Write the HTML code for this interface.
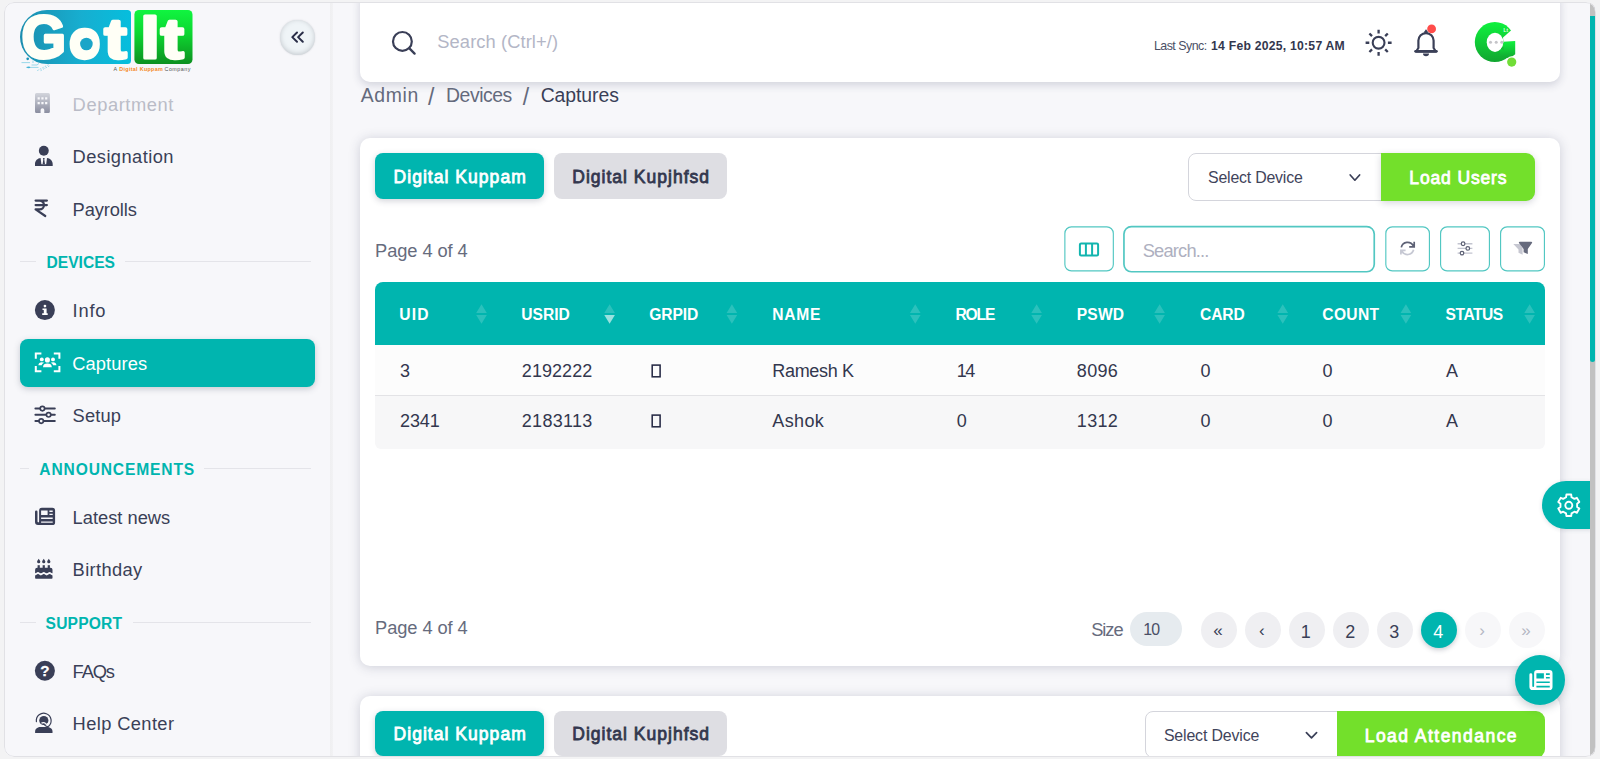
<!DOCTYPE html>
<html lang="en"><head><meta charset="utf-8"><title>GotIt - Captures</title>
<style>
*{box-sizing:border-box;margin:0;padding:0}
html,body{width:1600px;height:759px;overflow:hidden;background:#f3f3f4;font-family:"Liberation Sans",Arial,sans-serif}
#frame{position:absolute;left:4px;top:2px;width:1591.7px;height:754.5px;border-radius:10px;overflow:hidden;background:#f7f7fa}
#fb{position:absolute;left:0;top:0;right:0;bottom:0;border:1px solid #e1e1e5;border-radius:10px}
#p{position:absolute;left:-4px;top:-2px;width:1600px;height:759px}
.a{position:absolute}
.t{position:absolute;white-space:nowrap;line-height:24px;height:24px}
.card{position:absolute;background:#fff;border-radius:10px;box-shadow:0 1px 12px rgba(50,55,90,.21)}
.btn{position:absolute;border-radius:8px}
.ob{position:absolute;border:1.3px solid #41c2bd;border-radius:6.5px;background:#fff}
.pg{position:absolute;width:36px;height:36px;border-radius:50%;background:#efeff2}
.hl{position:absolute;height:1px;background:#e4e4e9}
svg{position:absolute;overflow:visible}
</style></head><body>
<div id="frame"><div id="p">
<div class="a" style="left:0;top:0;width:330.5px;height:759px;background:#f7f7fa"></div><div class="a" style="left:330.3px;top:0;width:3.2px;height:759px;background:linear-gradient(90deg,#efeff1,#f2f2f4)"></div><span class="t " style="left:72.60px;top:93.36px;font-size:18.3px;color:#b9bbc6;font-weight:400;letter-spacing:0.587px;">Department</span><span class="t " style="left:72.60px;top:145.16px;font-size:18.3px;color:#3a3f57;font-weight:400;letter-spacing:0.425px;">Designation</span><span class="t " style="left:72.60px;top:197.76px;font-size:18.3px;color:#3a3f57;font-weight:400;letter-spacing:-0.113px;">Payrolls</span><span class="t " style="left:72.60px;top:299.16px;font-size:18.3px;color:#3a3f57;font-weight:400;letter-spacing:0.792px;">Info</span><span class="t " style="left:72.60px;top:404.46px;font-size:18.3px;color:#3a3f57;font-weight:400;letter-spacing:0.144px;">Setup</span><span class="t " style="left:72.60px;top:506.06px;font-size:18.3px;color:#3a3f57;font-weight:400;letter-spacing:0.004px;">Latest news</span><span class="t " style="left:72.60px;top:558.26px;font-size:18.3px;color:#3a3f57;font-weight:400;letter-spacing:0.366px;">Birthday</span><span class="t " style="left:72.60px;top:660.26px;font-size:18.3px;color:#3a3f57;font-weight:400;letter-spacing:-1.120px;">FAQs</span><span class="t " style="left:72.60px;top:712.16px;font-size:18.3px;color:#3a3f57;font-weight:400;letter-spacing:0.385px;">Help Center</span><div class="a" style="left:20.2px;top:339.2px;width:294.7px;height:47.4px;border-radius:8px;background:#00b5af;box-shadow:0 2px 6px rgba(60,70,90,.25)"></div><span class="t " style="left:72.20px;top:351.76px;font-size:18.3px;color:#fff;font-weight:400;letter-spacing:0.120px;">Captures</span><div class="hl" style="left:20.2px;top:261px;width:15.900000000000002px"></div><div class="hl" style="left:125.4px;top:261px;width:185.9px"></div><span class="t " style="left:46.50px;top:251.09px;font-size:15.6px;color:#00b5af;font-weight:700;letter-spacing:0.002px;">DEVICES</span><div class="hl" style="left:20.2px;top:468px;width:8.5px"></div><div class="hl" style="left:204.4px;top:468px;width:106.9px"></div><span class="t " style="left:39.30px;top:457.69px;font-size:15.6px;color:#00b5af;font-weight:700;letter-spacing:0.855px;">ANNOUNCEMENTS</span><div class="hl" style="left:20.2px;top:621.5px;width:15.500000000000004px"></div><div class="hl" style="left:132.8px;top:621.5px;width:178.5px"></div><span class="t " style="left:45.60px;top:611.89px;font-size:15.6px;color:#00b5af;font-weight:700;letter-spacing:0.181px;">SUPPORT</span><div class="a" style="left:5px;top:74px;width:325px;height:30px;background:linear-gradient(#f7f7fa,rgba(247,247,250,0))"></div><div class="a" style="left:280.4px;top:20.4px;width:34.2px;height:34.2px;border-radius:50%;background:#eff4f7;box-shadow:inset 0 -1px 5px rgba(115,120,128,.36),0 0 2px rgba(115,120,128,.22)"></div><div class="a" style="left:360px;top:-10px;width:1200px;height:92px;border-radius:10px;background:#fff;box-shadow:0 3px 8px rgba(50,55,90,.19)"></div><span class="t " style="left:437.30px;top:29.96px;font-size:18.3px;color:#b3b6c6;font-weight:400;letter-spacing:0.101px;">Search (Ctrl+/)</span><span class="t " style="left:1153.90px;top:34.00px;font-size:12.4px;color:#4b5066;font-weight:400;letter-spacing:-0.499px;">Last Sync:</span><span class="t " style="left:1211.10px;top:34.07px;font-size:12.2px;color:#33374e;font-weight:700;letter-spacing:0.236px;">14 Feb 2025, 10:57 AM</span><span class="t " style="left:360.80px;top:83.38px;font-size:19.4px;color:#646a7c;font-weight:400;letter-spacing:0.627px;">Admin</span><span class="t " style="left:427.90px;top:84.73px;font-size:23px;color:#646a7c;font-weight:400;letter-spacing:2.210px;">/</span><span class="t " style="left:446.00px;top:83.38px;font-size:19.4px;color:#646a7c;font-weight:400;letter-spacing:-0.450px;">Devices</span><span class="t " style="left:522.70px;top:84.73px;font-size:23px;color:#646a7c;font-weight:400;letter-spacing:2.210px;">/</span><span class="t " style="left:540.70px;top:83.38px;font-size:19.4px;color:#3a3f57;font-weight:400;letter-spacing:-0.074px;">Captures</span><div class="card" style="left:360px;top:138px;width:1200px;height:527.6px"></div><div class="btn" style="left:375px;top:153.25px;width:169.2px;height:45.5px;background:#00b5af;box-shadow:0 2px 6px rgba(50,55,80,.22)"></div><span class="t " style="left:393.55px;top:165.14px;font-size:17.5px;color:#fff;font-weight:400;letter-spacing:1.040px;-webkit-text-stroke:0.8px #fff;">Digital Kuppam</span><div class="btn" style="left:554.25px;top:153.25px;width:173.2px;height:45.5px;background:#dedee3"></div><span class="t " style="left:572.30px;top:165.14px;font-size:17.5px;color:#33374e;font-weight:400;letter-spacing:1.007px;-webkit-text-stroke:0.8px #33374e;">Digital Kupjhfsd</span><div class="a" style="left:1188.25px;top:153.25px;width:194px;height:47.5px;border:1.25px solid #d4d5dc;border-radius:8px 0 0 8px;background:#fff"></div><span class="t " style="left:1208.05px;top:166.24px;font-size:15.9px;color:#3f445b;font-weight:400;letter-spacing:-0.205px;">Select Device</span><div class="a" style="left:1381.25px;top:153.25px;width:153.75px;height:47.5px;border-radius:0 9px 9px 0;background:#73e02b;box-shadow:0 2px 7px rgba(50,55,80,.2)"></div><span class="t " style="left:1409.30px;top:166.19px;font-size:17.5px;color:#fff;font-weight:400;letter-spacing:0.862px;-webkit-text-stroke:0.8px #fff;">Load Users</span><span class="t " style="left:375.05px;top:238.91px;font-size:18.3px;color:#666b7d;font-weight:400;letter-spacing:-0.086px;">Page 4 of 4</span><span class="t " style="left:1142.70px;top:238.96px;font-size:18.3px;color:#aeb0c0;font-weight:400;letter-spacing:-0.805px;">Search...</span><div class="a" style="left:375px;top:282px;width:1170px;height:62.6px;background:#00b5af;border-radius:8px 8px 0 0"></div><div class="a" style="left:375px;top:344.6px;width:1170px;height:51px;background:#fcfcfc;border-bottom:1px solid #e3e3e6"></div><div class="a" style="left:375px;top:395.6px;width:1170px;height:53.9px;background:#f7f7f8;border-radius:0 0 6px 6px"></div><span class="t " style="left:399.30px;top:302.59px;font-size:15.6px;color:#fff;font-weight:700;letter-spacing:1.192px;">UID</span><span class="t " style="left:521.30px;top:302.59px;font-size:15.6px;color:#fff;font-weight:700;letter-spacing:-0.009px;">USRID</span><span class="t " style="left:649.30px;top:302.59px;font-size:15.6px;color:#fff;font-weight:700;letter-spacing:-0.101px;">GRPID</span><span class="t " style="left:772.30px;top:302.59px;font-size:15.6px;color:#fff;font-weight:700;letter-spacing:0.689px;">NAME</span><span class="t " style="left:955.55px;top:302.59px;font-size:15.6px;color:#fff;font-weight:700;letter-spacing:-1.195px;">ROLE</span><span class="t " style="left:1076.80px;top:302.59px;font-size:15.6px;color:#fff;font-weight:700;letter-spacing:0.150px;">PSWD</span><span class="t " style="left:1200.05px;top:302.59px;font-size:15.6px;color:#fff;font-weight:700;letter-spacing:-0.105px;">CARD</span><span class="t " style="left:1322.30px;top:302.59px;font-size:15.6px;color:#fff;font-weight:700;letter-spacing:0.322px;">COUNT</span><span class="t " style="left:1445.55px;top:302.59px;font-size:15.6px;color:#fff;font-weight:700;letter-spacing:-0.467px;">STATUS</span><span class="t " style="left:400.05px;top:359.26px;font-size:18.0px;color:#33374e;font-weight:400;letter-spacing:0.000px;">3</span><span class="t " style="left:521.80px;top:359.26px;font-size:18.0px;color:#33374e;font-weight:400;letter-spacing:0.070px;">2192222</span><span class="t " style="left:772.30px;top:359.26px;font-size:18.0px;color:#33374e;font-weight:400;letter-spacing:-0.326px;">Ramesh K</span><span class="t " style="left:956.80px;top:359.26px;font-size:18.0px;color:#33374e;font-weight:400;letter-spacing:-1.522px;">14</span><span class="t " style="left:1076.80px;top:359.26px;font-size:18.0px;color:#33374e;font-weight:400;letter-spacing:0.319px;">8096</span><span class="t " style="left:1200.55px;top:359.26px;font-size:18.0px;color:#33374e;font-weight:400;letter-spacing:0.000px;">0</span><span class="t " style="left:1322.55px;top:359.26px;font-size:18.0px;color:#33374e;font-weight:400;letter-spacing:0.000px;">0</span><span class="t " style="left:1446.05px;top:359.26px;font-size:18.0px;color:#33374e;font-weight:400;letter-spacing:0.000px;">A</span><span class="t " style="left:400.05px;top:409.26px;font-size:18.0px;color:#33374e;font-weight:400;letter-spacing:-0.098px;">2341</span><span class="t " style="left:521.80px;top:409.26px;font-size:18.0px;color:#33374e;font-weight:400;letter-spacing:0.293px;">2183113</span><span class="t " style="left:772.30px;top:409.26px;font-size:18.0px;color:#33374e;font-weight:400;letter-spacing:0.368px;">Ashok</span><span class="t " style="left:956.80px;top:409.26px;font-size:18.0px;color:#33374e;font-weight:400;letter-spacing:0.000px;">0</span><span class="t " style="left:1076.80px;top:409.26px;font-size:18.0px;color:#33374e;font-weight:400;letter-spacing:0.319px;">1312</span><span class="t " style="left:1200.55px;top:409.26px;font-size:18.0px;color:#33374e;font-weight:400;letter-spacing:0.000px;">0</span><span class="t " style="left:1322.55px;top:409.26px;font-size:18.0px;color:#33374e;font-weight:400;letter-spacing:0.000px;">0</span><span class="t " style="left:1446.05px;top:409.26px;font-size:18.0px;color:#33374e;font-weight:400;letter-spacing:0.000px;">A</span><span class="t " style="left:375.05px;top:615.86px;font-size:18.3px;color:#666b7d;font-weight:400;letter-spacing:-0.086px;">Page 4 of 4</span><span class="t " style="left:1091.20px;top:617.66px;font-size:18.3px;color:#666b7d;font-weight:400;letter-spacing:-1.067px;">Size</span><div class="a" style="left:1130.1px;top:611.6px;width:51.5px;height:34.8px;border-radius:18px;background:#e6ebef"></div><span class="t " style="left:1143.20px;top:618.19px;font-size:15.9px;color:#4a4f66;font-weight:400;letter-spacing:-0.686px;">10</span><div class="pg" style="left:1200.7px;top:611.7px;background:#efeff2;"></div><span class="t " style="left:1213.27px;top:619.21px;font-size:17px;color:#3a3f57;font-weight:400;letter-spacing:0.000px;">«</span><div class="pg" style="left:1244.5px;top:611.7px;background:#efeff2;"></div><span class="t " style="left:1258.97px;top:619.21px;font-size:17px;color:#3a3f57;font-weight:400;letter-spacing:0.000px;">‹</span><div class="pg" style="left:1288.5px;top:611.7px;background:#efeff2;"></div><span class="t " style="left:1300.79px;top:619.66px;font-size:18.0px;color:#3a3f57;font-weight:400;letter-spacing:0.000px;">1</span><div class="pg" style="left:1332.9px;top:611.7px;background:#efeff2;"></div><span class="t " style="left:1345.19px;top:619.66px;font-size:18.0px;color:#3a3f57;font-weight:400;letter-spacing:0.000px;">2</span><div class="pg" style="left:1376.9px;top:611.7px;background:#efeff2;"></div><span class="t " style="left:1389.19px;top:619.66px;font-size:18.0px;color:#3a3f57;font-weight:400;letter-spacing:0.000px;">3</span><div class="pg" style="left:1420.9px;top:611.7px;background:#00b5af;box-shadow:0 2px 5px rgba(50,55,80,.25);"></div><span class="t " style="left:1433.19px;top:619.66px;font-size:18.0px;color:#fff;font-weight:400;letter-spacing:0.000px;">4</span><div class="pg" style="left:1464.7px;top:611.7px;background:#f7f7f9;"></div><span class="t " style="left:1479.17px;top:619.21px;font-size:17px;color:#b5b7c4;font-weight:400;letter-spacing:0.000px;">›</span><div class="pg" style="left:1508.6px;top:611.7px;background:#f7f7f9;"></div><span class="t " style="left:1521.17px;top:619.21px;font-size:17px;color:#b5b7c4;font-weight:400;letter-spacing:0.000px;">»</span><div class="card" style="left:360px;top:696.3px;width:1200px;height:120px"></div><div class="btn" style="left:375px;top:710.6px;width:169.2px;height:45px;background:#00b5af;box-shadow:0 2px 6px rgba(50,55,80,.22)"></div><span class="t " style="left:393.55px;top:722.24px;font-size:17.5px;color:#fff;font-weight:400;letter-spacing:1.040px;-webkit-text-stroke:0.8px #fff;">Digital Kuppam</span><div class="btn" style="left:554.25px;top:710.6px;width:173.2px;height:45px;background:#dedee3"></div><span class="t " style="left:572.30px;top:722.24px;font-size:17.5px;color:#33374e;font-weight:400;letter-spacing:1.007px;-webkit-text-stroke:0.8px #33374e;">Digital Kupjhfsd</span><div class="a" style="left:1145.4px;top:710.8px;width:193px;height:47.5px;border:1.25px solid #d4d5dc;border-radius:8px 0 0 8px;background:#fff"></div><span class="t " style="left:1163.90px;top:723.99px;font-size:15.9px;color:#3f445b;font-weight:400;letter-spacing:-0.143px;">Select Device</span><div class="a" style="left:1336.7px;top:710.8px;width:208.3px;height:47.5px;border-radius:0 9px 9px 0;background:#73e02b"></div><span class="t " style="left:1364.70px;top:723.84px;font-size:17.5px;color:#fff;font-weight:400;letter-spacing:1.466px;-webkit-text-stroke:0.8px #fff;">Load Attendance</span><div class="a" style="left:1542.3px;top:481.2px;width:50px;height:47.8px;border-radius:24px 0 0 24px;background:#00b5af;box-shadow:0 1px 4px rgba(50,55,80,.15)"></div><div class="a" style="left:1514.8px;top:654.8px;width:50.4px;height:50.2px;border-radius:50%;background:#00b5af;box-shadow:0 3px 8px rgba(40,60,80,.25)"></div><div class="a" style="left:1590.1px;top:0;width:9.9px;height:759px;background:#f7f7fa"></div><div class="a" style="left:1590.1px;top:0;width:5px;height:759px;background:#c1c1c1"></div><div class="a" style="left:1590.1px;top:16px;width:5px;height:346px;background:#00b5af;border-radius:0 0 3px 3px"></div><svg width="1600" height="759" viewBox="0 0 1600 759" style="left:0;top:0"><defs>
<linearGradient id="gb" x1="0" y1="0" x2="1" y2="0"><stop offset="0" stop-color="#1c8eae"/><stop offset=".55" stop-color="#17aed0"/><stop offset="1" stop-color="#06bedd"/></linearGradient>
<linearGradient id="gg" x1="0" y1="0" x2="0" y2="1"><stop offset="0" stop-color="#10f540"/><stop offset=".45" stop-color="#0dd530"/><stop offset="1" stop-color="#0d9020"/></linearGradient>
<linearGradient id="ga" x1="0" y1="0" x2="0" y2="1"><stop offset="0" stop-color="#0ff23e"/><stop offset="1" stop-color="#11a530"/></linearGradient>
<linearGradient id="gbd" x1="0" y1="0" x2="0" y2="1"><stop offset="0" stop-color="#d3d5dc"/><stop offset="1" stop-color="#8b8ea0"/></linearGradient>
</defs><path d="M47 10 H127.5 a3.5 3.5 0 0 1 3.5 3.5 V60.5 a3.5 3.5 0 0 1 -3.5 3.5 H47 A27 27 0 0 1 47 10 Z" fill="url(#gb)"/><rect x="134.4" y="10" width="58.1" height="54" rx="4.5" fill="url(#gg)"/><g stroke="#4fbfdd" stroke-width="1" fill="none" opacity=".55"><path d="M21.5 62.6 H30 M26 67.4 H38.5 M31.5 65 H37 l2 -1.6 M33 63 v-2.5"/><path d="M37.3 70.6 L48.8 64.5 M40.6 70.6 L50.5 65.3" stroke-dasharray="1.6 1.2"/></g><circle cx="27.7" cy="58.8" r="1.35" fill="#1b93b8"/><ellipse cx="28.6" cy="67.3" rx="1.7" ry=".9" fill="#2aa9cf" opacity=".8"/><path d="M26.8 51.4 l2.2 -1 l1 2.1 l-2.2 1 Z M31 52.6 l2.2 -1.3 l1.3 2.1 l-2.2 1.3 Z" fill="#1b8fb1"/><text x="21.5" y="57.5" font-family="'Liberation Sans',Arial,sans-serif" font-weight="700" fill="#fffff6" stroke="#fffff6" stroke-linejoin="round" lengthAdjust="spacingAndGlyphs" font-size="62" stroke-width="3.2" textLength="44.5">G</text><text x="69.3" y="57.6" font-family="'Liberation Sans',Arial,sans-serif" font-weight="700" fill="#fffff6" stroke="#fffff6" stroke-linejoin="round" lengthAdjust="spacingAndGlyphs" font-size="54.5" stroke-width="3.4" textLength="31">o</text><text x="104.4" y="57.5" font-family="'Liberation Sans',Arial,sans-serif" font-weight="700" fill="#fffff6" stroke="#fffff6" stroke-linejoin="round" lengthAdjust="spacingAndGlyphs" font-size="56" stroke-width="3.4" textLength="22">t</text><ellipse cx="85" cy="43" rx="6" ry="10.5" fill="#fffff6"/><circle cx="86.4" cy="44" r="6.3" fill="#1aa5c8"/><text x="140.4" y="57.5" font-family="'Liberation Sans',Arial,sans-serif" font-weight="700" fill="#fffff6" stroke="#fffff6" stroke-linejoin="round" lengthAdjust="spacingAndGlyphs" font-size="61" stroke-width="3.2" textLength="19">I</text><text x="161" y="57.5" font-family="'Liberation Sans',Arial,sans-serif" font-weight="700" fill="#fffff6" stroke="#fffff6" stroke-linejoin="round" lengthAdjust="spacingAndGlyphs" font-size="56" stroke-width="3.4" textLength="22.5">t</text><text y="71" font-family="'Liberation Sans',Arial,sans-serif" font-size="5.4" fill="#555"><tspan x="113.5">A</tspan> <tspan x="119.3" fill="#f58a1f" font-weight="700" textLength="43.5">Digital Kuppam</tspan> <tspan x="164.5" textLength="26">Company</tspan></text><path d="M297 32.5 L292.3 37.1 L297 41.7 M302.8 32.5 L298.1 37.1 L302.8 41.7" fill="none" stroke="#2a2e48" stroke-width="2" stroke-linecap="round" stroke-linejoin="round"/><circle cx="402.4" cy="41.4" r="9.4" fill="none" stroke="#3a3f57" stroke-width="2.2"/><path d="M409.4 48.4 L414.6 53.6" stroke="#3a3f57" stroke-width="2.3" stroke-linecap="round"/><circle cx="1378.6" cy="42.75" r="5.9" fill="none" stroke="#3a3f57" stroke-width="2.1"/><path d="M1387.90 42.75 L1391.60 42.75 M1385.18 49.33 L1387.79 51.94 M1378.60 52.05 L1378.60 55.75 M1372.02 49.33 L1369.41 51.94 M1369.30 42.75 L1365.60 42.75 M1372.02 36.17 L1369.41 33.56 M1378.60 33.45 L1378.60 29.75 M1385.18 36.17 L1387.79 33.56 " stroke="#3a3f57" stroke-width="2.3" stroke-linecap="butt" fill="none"/><path d="M1416.1 51.5 L1418.4 48 V40.6 a7.6 7.6 0 0 1 15.2 0 V48 L1435.9 51.5 Z" fill="none" stroke="#3a3f57" stroke-width="2.2" stroke-linejoin="round"/><path d="M1424.2 32.4 L1426 29.7 L1427.8 32.4 Z" fill="#3a3f57" stroke="#3a3f57" stroke-width=".8" stroke-linejoin="round"/><path d="M1415.6 51.3 H1436.4" stroke="#3a3f57" stroke-width="2.7" stroke-linecap="round"/><path d="M1423 53.6 H1429 a3 2.6 0 0 1 -6 0 Z" fill="#3a3f57"/><circle cx="1431.6" cy="28.9" r="4.4" fill="#ff4c4a"/><circle cx="1494.8" cy="42.05" r="20" fill="url(#ga)"/><path d="M1500 41.6 L1515.2 40.9 V54.3 L1509.5 58.6 L1500 56 Z" fill="url(#ga)"/><path d="M1503 37.6 L1512.7 29 L1519 27 V40.7 L1503.4 41.7 Z" fill="#fff"/><ellipse cx="1495" cy="42.3" rx="8.3" ry="9.6" fill="#fff"/><path d="M1500.8 48.5 L1503.6 46.2 L1503.6 50.5 Z" fill="#14bb36"/><circle cx="1490.5" cy="42.3" r="1.5" fill="#c4c4c8"/><circle cx="1496.2" cy="42.3" r="1.5" fill="#c4c4c8"/><circle cx="1501.8" cy="42.3" r="1.5" fill="#c4c4c8"/><text x="1503.6" y="32.4" font-family="'Liberation Sans',Arial,sans-serif" font-weight="700" font-size="4.6" fill="#eafff0">Lt</text><circle cx="1511.7" cy="62.1" r="5.9" fill="#fff"/><circle cx="1511.7" cy="62.1" r="4.6" fill="#71dd37"/><path fill-rule="evenodd" fill="url(#gbd)" d="M36.5 93.1 H48.4 a1.5 1.5 0 0 1 1.5 1.5 V111.4 a1.5 1.5 0 0 1 -1.5 1.5 H44.3 V110 a1.85 1.85 0 0 0 -3.7 0 V112.9 H36.5 a1.5 1.5 0 0 1 -1.5 -1.5 V94.6 a1.5 1.5 0 0 1 1.5 -1.5 Z M37.6 97.3 h2.2 v2.2 h-2.2 Z M41.35 97.3 h2.2 v2.2 h-2.2 Z M45.1 97.3 h2.2 v2.2 h-2.2 Z M37.6 102.1 h2.2 v2.2 h-2.2 Z M41.35 102.1 h2.2 v2.2 h-2.2 Z M45.1 102.1 h2.2 v2.2 h-2.2 Z"/><circle cx="43.8" cy="150.7" r="4.95" fill="#3a3f57"/><path fill="#3a3f57" d="M35 165.9 V164 C35 160.6 37.6 158.3 40.6 158 L41.4 164.2 H46.2 L47 158 C50 158.3 52.7 160.6 52.7 164 V165.9 Z"/><path fill="#3a3f57" d="M42.9 158 H44.7 L44.3 159.4 L45 164.2 H42.6 L43.3 159.4 Z"/><path d="M35.6 200.6 H46.9 M35.6 205.1 H46.9 M35.6 200.6 H39.6 a4.4 4.4 0 0 1 0 8.8 H35.6 L45.3 216" fill="none" stroke="#3a3f57" stroke-width="2.2" stroke-linecap="round" stroke-linejoin="round"/><circle cx="44.9" cy="310.1" r="10" fill="#3a3f57"/><circle cx="44.95" cy="306.1" r="1.35" fill="#fff"/><path fill="#fff" d="M42.5 308.6 H46.6 V313.3 H47.7 V314.9 H42.2 V313.3 H43.8 V310 H42.5 Z"/><path d="M35.8 358.7 V353.4 H41.4 M53.8 353.4 H59.4 V358.7 M59.4 366 V371.2 H53.8 M41.4 371.2 H35.8 V366" fill="none" stroke="#fff" stroke-width="2"/><circle cx="47.4" cy="359.9" r="2.55" fill="#fff"/><circle cx="41.8" cy="359.4" r="1.95" fill="#fff"/><circle cx="53" cy="359.4" r="1.95" fill="#fff"/><path fill="#fff" d="M43 367.2 C43 364.6 44.8 363.5 47.4 363.5 C50 363.5 51.8 364.6 51.8 367.2 Z"/><path fill="#fff" d="M38.4 365.2 C38.4 363.2 39.8 362.2 41.8 362.2 C42.7 362.2 43.5 362.4 44.1 362.8 C42.8 363.4 42 364.3 41.7 365.2 Z M56.4 365.2 C56.4 363.2 55 362.2 53 362.2 C52.1 362.2 51.3 362.4 50.7 362.8 C52 363.4 52.8 364.3 53.1 365.2 Z"/><path d="M35.4 408.6 H54.8 M35.4 414.8 H54.8 M35.4 421.1 H54.8" stroke="#3a3f57" stroke-width="2" stroke-linecap="round"/><circle cx="42.4" cy="408.6" r="2.2" fill="#f7f7fa" stroke="#3a3f57" stroke-width="1.7"/><circle cx="48.6" cy="414.8" r="2.2" fill="#f7f7fa" stroke="#3a3f57" stroke-width="1.7"/><circle cx="41.2" cy="421.1" r="2.2" fill="#f7f7fa" stroke="#3a3f57" stroke-width="1.7"/><path fill-rule="evenodd" fill="#3a3f57" d="M41.80 507.70 H52.40 A2.70 2.70 0 0 1 55.10 510.40 V522.40 A2.70 2.70 0 0 1 52.40 525.10 H38.00 A3.00 3.00 0 0 1 35.00 522.10 V511.70 A1.25 1.25 0 0 1 37.50 511.70 V521.60 A0.80 0.80 0 0 0 39.10 521.60 V510.40 A2.70 2.70 0 0 1 41.80 507.70 Z M41.10 510.50 H47.60 V515.00 H41.10 Z M49.40 510.50 H52.70 V511.90 H49.40 Z M49.40 513.70 H52.70 V515.10 H49.40 Z M41.10 517.60 H52.70 V519.00 H41.10 Z M41.10 521.40 H52.70 V522.80 H41.10 Z"/><path fill="#3a3f57" d="M35.1 573.2 V569.8 a2 2 0 0 1 2 -2 H50.5 a2 2 0 0 1 2 2 V573.2 c-1.45 0 -1.45 -1.3 -2.9 -1.3 s-1.45 1.3 -2.9 1.3 s-1.45 -1.3 -2.9 -1.3 s-1.45 1.3 -2.9 1.3 s-1.45 -1.3 -2.9 -1.3 s-1.45 1.3 -2.9 1.3 Z"/><path fill="#3a3f57" d="M35.1 575.4 c1.45 0 1.45 -1.3 2.9 -1.3 s1.45 1.3 2.9 1.3 s1.45 -1.3 2.9 -1.3 s1.45 1.3 2.9 1.3 s1.45 -1.3 2.9 -1.3 s1.45 1.3 2.9 1.3 V578 a.8 .8 0 0 1 -.8 .8 H35.9 a.8 .8 0 0 1 -.8 -.8 Z"/><rect x="37.6" y="565.2" width="2.2" height="3" fill="#3a3f57"/><path fill="#3a3f57" d="M38.7 558.7 C39.6 560 40.300000000000004 560.8 40.300000000000004 561.7 a1.6 1.5 0 0 1 -3.2 0 C37.1 560.8 37.800000000000004 560 38.7 558.7 Z"/><rect x="42.65" y="565.2" width="2.2" height="3" fill="#3a3f57"/><path fill="#3a3f57" d="M43.75 558.7 C44.65 560 45.35 560.8 45.35 561.7 a1.6 1.5 0 0 1 -3.2 0 C42.15 560.8 42.85 560 43.75 558.7 Z"/><rect x="47.699999999999996" y="565.2" width="2.2" height="3" fill="#3a3f57"/><path fill="#3a3f57" d="M48.8 558.7 C49.699999999999996 560 50.4 560.8 50.4 561.7 a1.6 1.5 0 0 1 -3.2 0 C47.199999999999996 560.8 47.9 560 48.8 558.7 Z"/><circle cx="44.9" cy="670.7" r="10" fill="#3a3f57"/><text x="44.9" y="676.2" text-anchor="middle" font-family="'Liberation Sans',Arial,sans-serif" font-weight="700" font-size="15.2" fill="#fff" stroke="#fff" stroke-width=".3">?</text><circle cx="43.8" cy="720.5" r="4.6" fill="#3a3f57"/><path d="M36.4 721.6 A7.4 7.4 0 1 1 48.6 726.2 C47 727.2 45.5 726 44 724.3" fill="none" stroke="#3a3f57" stroke-width="1.2" stroke-linecap="round"/><path d="M41.5 723.3 C42.5 722.3 44.5 722.3 45.6 723.6 C46.6 724.6 48 724 48.4 723.4" fill="none" stroke="#f7f7fa" stroke-width="1.3"/><path fill="#3a3f57" d="M35.1 732.9 V731.6 C35.1 728.6 37.8 727 40.6 727 H47 C49.8 727 52.5 728.6 52.5 731.6 V732.9 Z"/><path d="M1350.2 175 L1354.9 180.2 L1359.6 175" fill="none" stroke="#3a3f57" stroke-width="1.7" stroke-linecap="round" stroke-linejoin="round"/><path d="M1306.4 732.6 L1311.5 737.8 L1316.6 732.6" fill="none" stroke="#3a3f57" stroke-width="1.7" stroke-linecap="round" stroke-linejoin="round"/><rect x="1064.875" y="226.875" width="48.45" height="44.050000000000004" rx="6.5" fill="none" stroke="#52c7c2" stroke-width="1.15"/><rect x="1123.9499999999998" y="226.54999999999998" width="250.3" height="45.199999999999996" rx="7.5" fill="none" stroke="#52c7c2" stroke-width="1.7"/><rect x="1385.825" y="226.875" width="43.6" height="44.050000000000004" rx="6.5" fill="none" stroke="#52c7c2" stroke-width="1.15"/><rect x="1440.575" y="226.875" width="48.85" height="44.050000000000004" rx="6.5" fill="none" stroke="#52c7c2" stroke-width="1.15"/><rect x="1500.575" y="226.875" width="43.85" height="44.050000000000004" rx="6.5" fill="none" stroke="#52c7c2" stroke-width="1.15"/><rect x="1079.9" y="243.6" width="18.2" height="11.8" rx="1.2" fill="none" stroke="#12b5af" stroke-width="2"/><path d="M1085.9 243.6 V255.4 M1092.1 243.6 V255.4" stroke="#12b5af" stroke-width="2"/><path d="M1401.3 247.4 A6.4 6.4 0 0 1 1413.3 246 M1414.2 241.8 V246.9 H1409.2" fill="none" stroke="#5d6175" stroke-width="1.7" stroke-linecap="butt" stroke-linejoin="miter"/><path d="M1413.6 249.8 A6.4 6.4 0 0 1 1401.8 251.2 M1400.9 254.6 V250.3 H1405.6" fill="none" stroke="#c6c8d3" stroke-width="1.7" stroke-linecap="butt" stroke-linejoin="miter"/><path d="M1457.6 243.7 H1472.4 M1457.6 248.4 H1472.4 M1457.6 253.1 H1472.4" stroke="#c2c4cf" stroke-width="1.4"/><circle cx="1463.1" cy="243.7" r="1.8" fill="#fff" stroke="#5d6175" stroke-width="1.25"/><circle cx="1467.8" cy="248.4" r="1.8" fill="#fff" stroke="#5d6175" stroke-width="1.25"/><circle cx="1462" cy="253.1" r="1.8" fill="#fff" stroke="#5d6175" stroke-width="1.25"/><path fill="#c6c7d1" d="M1513.3 244 H1520 L1522.6 248 V254.7 L1518.5 252.8 V249.6 Z"/><path fill="#666a7d" d="M1519.6 241.8 H1531.4 a.8 .8 0 0 1 .6 1.3 L1527.8 248.9 V254.1 L1523.6 252.2 V248.9 L1519 243.1 a.8 .8 0 0 1 .6 -1.3 Z"/><rect x="652.2" y="365.1" width="7.9" height="11.7" fill="none" stroke="#262a45" stroke-width="1.55"/><rect x="652.2" y="415.1" width="7.9" height="11.7" fill="none" stroke="#262a45" stroke-width="1.55"/><path d="M476.2 313 L481.5 304.2 L486.8 313 Z" fill="#fff" fill-opacity="0.17"/><path d="M476.2 315 L481.5 323.8 L486.8 315 Z" fill="#fff" fill-opacity="0.17"/><path d="M604.3000000000001 313 L609.6 304.2 L614.9 313 Z" fill="#fff" fill-opacity="0.17"/><path d="M604.3000000000001 315 L609.6 323.8 L614.9 315 Z" fill="#fff" fill-opacity="0.6"/><path d="M726.6 313 L731.9 304.2 L737.1999999999999 313 Z" fill="#fff" fill-opacity="0.17"/><path d="M726.6 315 L731.9 323.8 L737.1999999999999 315 Z" fill="#fff" fill-opacity="0.17"/><path d="M909.95 313 L915.25 304.2 L920.55 313 Z" fill="#fff" fill-opacity="0.17"/><path d="M909.95 315 L915.25 323.8 L920.55 315 Z" fill="#fff" fill-opacity="0.17"/><path d="M1031.3 313 L1036.6 304.2 L1041.8999999999999 313 Z" fill="#fff" fill-opacity="0.17"/><path d="M1031.3 315 L1036.6 323.8 L1041.8999999999999 315 Z" fill="#fff" fill-opacity="0.17"/><path d="M1154.3 313 L1159.6 304.2 L1164.8999999999999 313 Z" fill="#fff" fill-opacity="0.17"/><path d="M1154.3 315 L1159.6 323.8 L1164.8999999999999 315 Z" fill="#fff" fill-opacity="0.17"/><path d="M1277.45 313 L1282.75 304.2 L1288.05 313 Z" fill="#fff" fill-opacity="0.17"/><path d="M1277.45 315 L1282.75 323.8 L1288.05 315 Z" fill="#fff" fill-opacity="0.17"/><path d="M1400.6000000000001 313 L1405.9 304.2 L1411.2 313 Z" fill="#fff" fill-opacity="0.17"/><path d="M1400.6000000000001 315 L1405.9 323.8 L1411.2 315 Z" fill="#fff" fill-opacity="0.17"/><path d="M1524.3 313 L1529.6 304.2 L1534.8999999999999 313 Z" fill="#fff" fill-opacity="0.17"/><path d="M1524.3 315 L1529.6 323.8 L1534.8999999999999 315 Z" fill="#fff" fill-opacity="0.17"/><path d="M1566.05 497.26 L1566.40 494.57 L1571.20 494.57 L1571.55 497.26 L1574.39 498.89 L1576.90 497.85 L1579.30 502.01 L1577.14 503.66 L1577.14 506.94 L1579.30 508.59 L1576.90 512.75 L1574.39 511.71 L1571.55 513.34 L1571.20 516.03 L1566.40 516.03 L1566.05 513.34 L1563.21 511.71 L1560.70 512.75 L1558.30 508.59 L1560.46 506.94 L1560.46 503.66 L1558.30 502.01 L1560.70 497.85 L1563.21 498.89 Z" fill="none" stroke="#fff" stroke-width="1.9" stroke-linejoin="round"/><circle cx="1568.8" cy="505.3" r="3.5" fill="none" stroke="#fff" stroke-width="1.9"/><path fill-rule="evenodd" fill="#fff" d="M1537.22 670.10 H1549.41 A3.10 3.10 0 0 1 1552.52 673.21 V687.00 A3.10 3.10 0 0 1 1549.41 690.11 H1532.85 A3.45 3.45 0 0 1 1529.40 686.66 V674.70 A1.44 1.44 0 0 1 1532.28 674.70 V686.09 A0.92 0.92 0 0 0 1534.12 686.09 V673.21 A3.10 3.10 0 0 1 1537.22 670.10 Z M1536.42 673.32 H1543.89 V678.50 H1536.42 Z M1545.96 673.32 H1549.76 V674.93 H1545.96 Z M1545.96 677.00 H1549.76 V678.61 H1545.96 Z M1536.42 681.49 H1549.76 V683.10 H1536.42 Z M1536.42 685.86 H1549.76 V687.47 H1536.42 Z"/></svg></div><div id="fb"></div></div></body></html>
